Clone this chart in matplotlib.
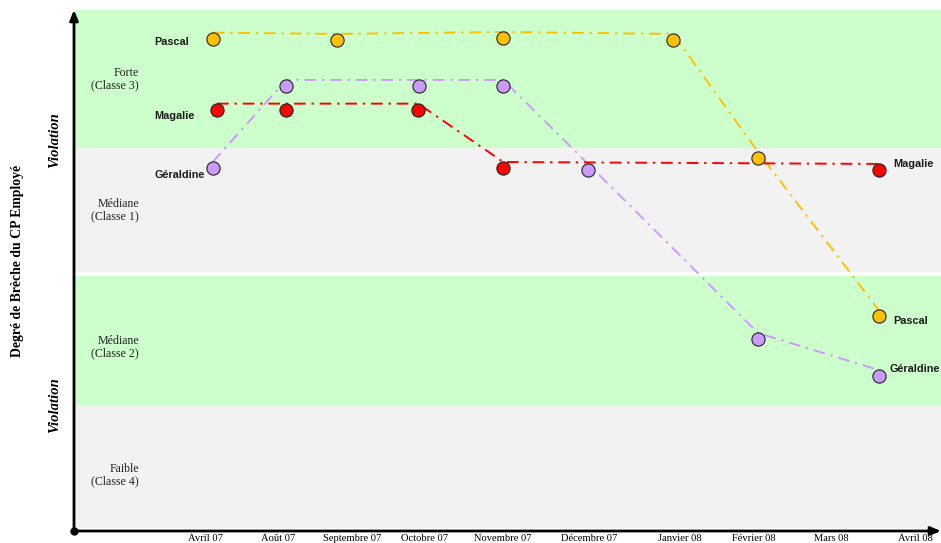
import matplotlib
matplotlib.use("Agg")
import matplotlib.pyplot as plt
import matplotlib.transforms as mtransforms

# ---- data ----
month_labels = ["Avril 07", "Août 07", "Septembre 07", "Octobre 07", "Novembre 07",
                "Décembre 07", "Janvier 08", "Février 08", "Mars 08", "Avril 08"]
month_pos = [1.52, 2.36, 3.21, 4.04, 4.95, 5.94, 6.99, 7.84, 8.73, 9.71]

pascal_x = [1.60, 3.03, 4.95, 6.91, 7.89, 9.28]
pascal_y = [3.78, 3.77, 3.785, 3.77, 2.864, 1.651]
geraldine_x = [1.60, 2.45, 3.98, 4.95, 5.93, 7.89, 9.28]
geraldine_y = [2.787, 3.417, 3.417, 3.417, 2.772, 1.474, 1.19]
magalie_x = [1.65, 2.45, 3.97, 4.95, 9.28]
magalie_y = [3.235, 3.235, 3.235, 2.787, 2.772]

band_edges = [0.02, 0.97, 1.96, 1.985, 2.94, 4.0]
band_colors = ["#F2F2F2", "#CCFFCC", "#FFFFFF", "#F2F2F2", "#CCFFCC"]

class_labels = ["Forte\n(Classe 3)", "Médiane\n(Classe 1)", "Médiane\n(Classe 2)", "Faible\n(Classe 4)"]
class_label_y = [3.47, 2.464, 1.413, 0.43]

# ---- figure ----
fig = plt.figure(figsize=(9.41, 5.43), dpi=100)
W, H = 941, 543
ax = fig.add_axes([74 / W, 12 / H, (W - 74) / W, (531 - 10) / H])
ax.set_xlim(0, 10)
ax.set_ylim(0, 4)
for s in ax.spines.values():
    s.set_visible(False)
ax.set_yticks([])
ax.set_xticks(month_pos)
ax.set_xticklabels(month_labels, family="Liberation Serif", fontsize=7.6)
ax.tick_params(axis="x", length=0, pad=2)

for i in range(len(band_colors)):
    ax.axhspan(band_edges[i], band_edges[i + 1], color=band_colors[i], lw=0, zorder=0)

# dashed lines drawn slightly above the markers as in the reference
off = mtransforms.ScaledTranslation(0, 6 / 100, fig.dpi_scale_trans)
ls = (0, (6, 3, 1.2, 3))

series = [
    ("Pascal", pascal_x, pascal_y, "#FFC000", "#FFC000"),
    ("Géraldine", geraldine_x, geraldine_y, "#CC99FF", "#CC99FF"),
    ("Magalie", magalie_x, magalie_y, "#FF0000", "#FF0000"),
]
for name, xs, ys, lc, fc in series:
    ax.plot(xs, ys, color=lc, lw=1.4, linestyle=ls, transform=ax.transData + off, zorder=2)
    ax.plot(xs, ys, linestyle="none", marker="o", ms=9.5, mfc=fc, mec="#222222", mew=0.8, zorder=3)

# series labels
name_font = dict(family="Liberation Sans", fontsize=7.8, fontweight="bold", color="#1a1a1a", va="center")
ax.text(0.93, 3.753, "Pascal", ha="left", **name_font)
ax.text(0.93, 3.186, "Magalie", ha="left", **name_font)
ax.text(0.93, 2.733, "Géraldine", ha="left", **name_font)
ax.text(9.45, 2.818, "Magalie", ha="left", clip_on=False, **name_font)
ax.text(9.45, 1.612, "Pascal", ha="left", clip_on=False, **name_font)
ax.text(9.41, 1.244, "Géraldine", ha="left", clip_on=False, **name_font)

for lab, yy in zip(class_labels, class_label_y):
    ax.text(0.75, yy, lab, ha="right", va="center", multialignment="right",
            family="Liberation Serif", fontsize=8.6, color="#222222", linespacing=1.05)

# axes arrows
ax.annotate("", xy=(0, 1.0), xytext=(0, 0), xycoords="axes fraction",
            arrowprops=dict(arrowstyle="-|>,head_length=0.6,head_width=0.25", lw=2, color="black",
                            shrinkA=0, shrinkB=0), annotation_clip=False)
ax.annotate("", xy=(1.0, 0), xytext=(0, 0), xycoords="axes fraction",
            arrowprops=dict(arrowstyle="-|>,head_length=0.6,head_width=0.25", lw=2, color="black",
                            shrinkA=0, shrinkB=0), annotation_clip=False)
ax.plot([0], [0], marker="o", ms=5, color="black", transform=ax.transAxes, clip_on=False, zorder=5)

fig.text(55 / W, 1 - 140 / H, "Violation", rotation=90, ha="center", va="center",
         family="Liberation Serif", fontsize=10.5, fontweight="bold", style="italic")
fig.text(55 / W, 1 - 405 / H, "Violation", rotation=90, ha="center", va="center",
         family="Liberation Serif", fontsize=10.5, fontweight="bold", style="italic")
fig.text(18 / W, 1 - 261 / H, "Degré de Brèche du CP Employé", rotation=90, ha="center", va="center",
         family="Liberation Serif", fontsize=9.9, fontweight="bold")

fig.savefig("out.png", dpi=100)
